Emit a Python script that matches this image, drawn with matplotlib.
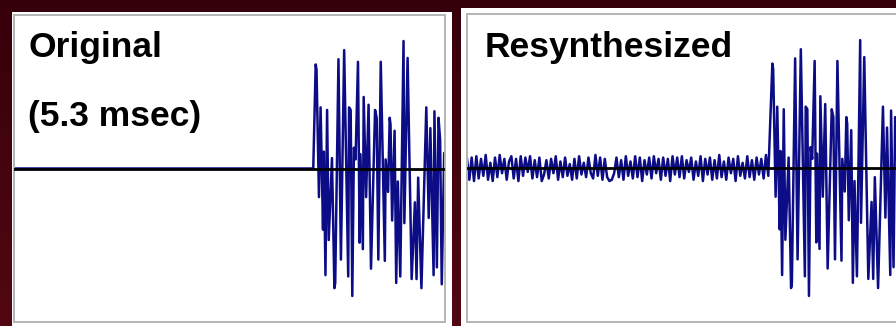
import numpy as np
import matplotlib
matplotlib.use("Agg")
import matplotlib.pyplot as plt
from matplotlib.patches import Rectangle
from matplotlib.colors import LinearSegmentedColormap

# ------------------------------------------------------------
# waveform data (time in msec, amplitude normalised to ~[-1, 1])
# ------------------------------------------------------------

WINDOW_MS = 5.3

burst_t = [3.68, 3.71, 3.72, 3.75, 3.77, 3.80, 3.81, 3.83, 3.85, 3.87,
           3.91, 3.94, 3.95, 3.99, 4.02, 4.06, 4.11, 4.12, 4.14, 4.16,
           4.18, 4.20, 4.23, 4.25, 4.26, 4.29, 4.30, 4.33, 4.36, 4.39,
           4.44, 4.46, 4.48, 4.51, 4.56, 4.57, 4.60, 4.62, 4.63, 4.65,
           4.68, 4.70, 4.72, 4.75, 4.79, 4.80, 4.84, 4.89, 4.93, 4.95,
           4.97, 5.01, 5.07, 5.10, 5.12, 5.16, 5.17, 5.20, 5.22, 5.24,
           5.26, 5.29, 5.32, 5.35]
burst_a = [0.0, 0.80, 0.76, -0.22, 0.47, -0.47, 0.13, -0.82, 0.45, -0.55,
           0.08, -0.92, -0.88, 0.84, -0.70, 0.91, -0.83, 0.47, 0.45, -0.98,
           0.16, 0.07, 0.82, -0.57, 0.11, -0.62, 0.55, -0.22, 0.49, -0.77,
           0.45, 0.39, -0.70, 0.82, -0.71, 0.07, -0.18, 0.39, 0.34, -0.40,
           0.29, -0.88, -0.10, -0.83, 0.98, -0.42, 0.85, -0.85, -0.26, -0.85,
           -0.07, -0.92, 0.47, -0.38, 0.31, -0.82, 0.44, -0.76, 0.39, 0.22,
           -0.89, 0.12, -0.40, 0.30]

# low-level residual before the burst in the resynthesized signal
noise_a = [0.07, -0.09, 0.08, -0.10, 0.09, -0.08, 0.07, -0.06, 0.10, -0.09,
           0.04, -0.10, 0.08, -0.07, 0.10, -0.04, 0.07, -0.09, 0.05, 0.09,
           -0.08, 0.07, -0.10, 0.09, -0.06, 0.08, -0.03, 0.09, -0.08, 0.06,
           -0.07, 0.08, -0.10, -0.05, 0.06, -0.08, 0.07, -0.04, 0.09, -0.09,
           0.05, -0.07, 0.08, -0.06, 0.03, -0.09, 0.07, -0.08, 0.09, -0.05,
           0.04, -0.07, 0.08, -0.04, -0.08, 0.10, -0.06, 0.08, -0.09, 0.07,
           -0.07, -0.10, -0.09, -0.04, 0.08, -0.07, 0.06, -0.09, 0.09, -0.06,
           0.05, -0.08, 0.09, -0.07, 0.08, -0.10, 0.06, -0.05, 0.08, -0.08,
           0.09, -0.04, 0.07, -0.09, 0.08, -0.06, 0.07, -0.10, 0.09, -0.05,
           0.08, -0.07, 0.09, -0.08, 0.06, -0.03, 0.08, -0.09, 0.05, -0.06,
           0.09, -0.10, 0.07, -0.05, 0.08, -0.09, 0.06, -0.08, 0.10, -0.07,
           0.05, -0.09, 0.08, -0.04, 0.07, -0.10, 0.09, -0.06, 0.04, -0.08,
           0.09, -0.07, 0.06, -0.09, 0.08, -0.05, 0.07, -0.08, 0.10, -0.06]

RESYN_SHIFT_MS = 0.045

# ------------------------------------------------------------
# build the two traces
# ------------------------------------------------------------

orig_t = [0.0] + burst_t
orig_a = [0.0] + burst_a

noise_t = list(np.linspace(0.0, burst_t[0] + RESYN_SHIFT_MS - 0.02, len(noise_a)))
resyn_t = noise_t + [t + RESYN_SHIFT_MS for t in burst_t[1:]]
resyn_a = noise_a + burst_a[1:]

# ------------------------------------------------------------
# figure
# ------------------------------------------------------------

W_PX, H_PX = 896, 326
fig = plt.figure(figsize=(W_PX / 100, H_PX / 100), dpi=100)

# dark maroon backdrop with a slight vertical gradient
bg = fig.add_axes([0, 0, 1, 1], zorder=-10)
grad = np.linspace(0, 1, 256).reshape(-1, 1)
bg_cmap = LinearSegmentedColormap.from_list("maroon", ["#36000a", "#520812"])
bg.imshow(grad, aspect="auto", cmap=bg_cmap, extent=[0, 1, 0, 1])
bg.axis("off")


def px_rect(x0, y0, x1, y1):
    # pixel box (top-left origin) -> figure fraction [left, bottom, w, h]
    return [x0 / W_PX, 1 - y1 / H_PX, (x1 - x0) / W_PX, (y1 - y0) / H_PX]


# white card behind each panel
for box in [(12, 12, 452, 340), (461, 8, 910, 340)]:
    l, b, w, h = px_rect(*box)
    fig.patches.append(Rectangle((l, b), w, h, transform=fig.transFigure,
                                 facecolor="white", edgecolor="none", zorder=-5))

ax_orig = fig.add_axes(px_rect(14, 15, 445, 322))
ax_resyn = fig.add_axes(px_rect(467, 14, 898, 322))

TRACE_COLOR = "#0c0c86"
title_font = dict(family=["Liberation Sans", "DejaVu Sans"], fontweight="bold",
                  fontsize=25.5, color="black")

for ax, t, a in [(ax_orig, orig_t, orig_a), (ax_resyn, resyn_t, resyn_a)]:
    ax.plot(t, a, color=TRACE_COLOR, lw=1.8, zorder=2)
    ax.axhline(0, color="black", lw=2.0, zorder=3)
    ax.set_xlim(0, WINDOW_MS)
    ax.set_ylim(-1.18, 1.18)
    ax.set_xticks([])
    ax.set_yticks([])
    ax.set_facecolor("white")
    for s in ax.spines.values():
        s.set_color("#b4b4b4")
        s.set_linewidth(1.4)

ax_orig.text(0.033, 0.863, "Original", transform=ax_orig.transAxes,
             va="baseline", ha="left", **title_font)
ax_orig.text(0.033, 0.638, "(5.3 msec)", transform=ax_orig.transAxes,
             va="baseline", ha="left", **title_font)
ax_resyn.text(0.040, 0.860, "Resynthesized", transform=ax_resyn.transAxes,
              va="baseline", ha="left", **title_font)

fig.savefig("out.png", dpi=100)
